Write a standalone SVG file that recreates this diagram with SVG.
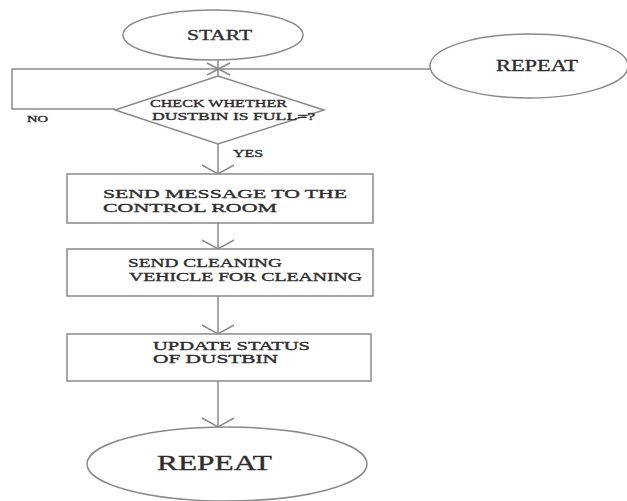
<svg xmlns="http://www.w3.org/2000/svg" width="627" height="501" viewBox="0 0 627 501">
<style>
.s{fill:#fff;stroke:#8a8a8a;stroke-width:1.5}
.c{fill:none;stroke:#8a8a8a;stroke-width:1.5}
text{font-family:"Liberation Serif","Times New Roman",serif;fill:#2e2e2e;stroke:#2e2e2e;stroke-width:0.35}
</style>
<defs>
<marker id="v" markerUnits="userSpaceOnUse" viewBox="-12 -18 14 36" refX="0" refY="0" markerWidth="14" markerHeight="36" orient="auto">
<path d="M-9,-16 L0,0 L-9,16" fill="none" stroke="#8a8a8a" stroke-width="1.5"/>
</marker>
</defs>
<rect width="627" height="501" fill="#fff"/>
<g id="connectors">
<line class="c" x1="218" y1="60" x2="218" y2="76"/>
<polyline class="c" points="430,69 12,69 12,109 115,109"/>
<line class="c" x1="207" y1="63" x2="230" y2="75"/>
<line class="c" x1="230" y1="63" x2="207" y2="75"/>
<line class="c" x1="218" y1="144" x2="218" y2="174" marker-end="url(#v)"/>
<line class="c" x1="218" y1="223" x2="218" y2="249" marker-end="url(#v)"/>
<line class="c" x1="218" y1="296" x2="218" y2="334" marker-end="url(#v)"/>
<line class="c" x1="218" y1="381" x2="218" y2="427" marker-end="url(#v)"/>
<text x="27" y="122" font-size="9" textLength="21" lengthAdjust="spacingAndGlyphs">NO</text>
<text x="233" y="157" font-size="10" textLength="30" lengthAdjust="spacingAndGlyphs">YES</text>
</g>
<g id="start">
<ellipse class="s" cx="213" cy="35" rx="90" ry="25"/>
<text x="187" y="40" font-size="15" textLength="65" lengthAdjust="spacingAndGlyphs">START</text>
</g>
<g id="repeat-top">
<ellipse class="s" cx="529" cy="66" rx="99" ry="32"/>
<text x="496" y="71" font-size="16" textLength="82" lengthAdjust="spacingAndGlyphs">REPEAT</text>
</g>
<g id="check">
<polygon class="s" points="218,76 324,110 218,144 115,110"/>
<text x="150" y="107" font-size="11" textLength="137" lengthAdjust="spacingAndGlyphs">CHECK WHETHER</text>
<text x="152" y="119.5" font-size="11" textLength="163" lengthAdjust="spacingAndGlyphs">DUSTBIN IS FULL=?</text>
</g>
<g id="send-message">
<rect class="s" x="67" y="174" width="306" height="49"/>
<text x="103" y="198" font-size="13.5" textLength="244" lengthAdjust="spacingAndGlyphs">SEND MESSAGE TO THE</text>
<text x="103" y="212" font-size="13.5" textLength="174" lengthAdjust="spacingAndGlyphs">CONTROL ROOM</text>
</g>
<g id="send-vehicle">
<rect class="s" x="67" y="249" width="306" height="47"/>
<text x="128" y="267" font-size="12.5" textLength="154" lengthAdjust="spacingAndGlyphs">SEND CLEANING</text>
<text x="129" y="280.5" font-size="12.5" textLength="233" lengthAdjust="spacingAndGlyphs">VEHICLE FOR CLEANING</text>
</g>
<g id="update-status">
<rect class="s" x="67" y="334" width="304" height="47"/>
<text x="153" y="349.5" font-size="12" textLength="157" lengthAdjust="spacingAndGlyphs">UPDATE STATUS</text>
<text x="153" y="362.5" font-size="12" textLength="125" lengthAdjust="spacingAndGlyphs">OF DUSTBIN</text>
</g>
<g id="repeat-bottom">
<ellipse class="s" cx="227" cy="464" rx="140" ry="37"/>
<text x="157" y="470" font-size="22" textLength="115" lengthAdjust="spacingAndGlyphs">REPEAT</text>
</g>
</svg>
